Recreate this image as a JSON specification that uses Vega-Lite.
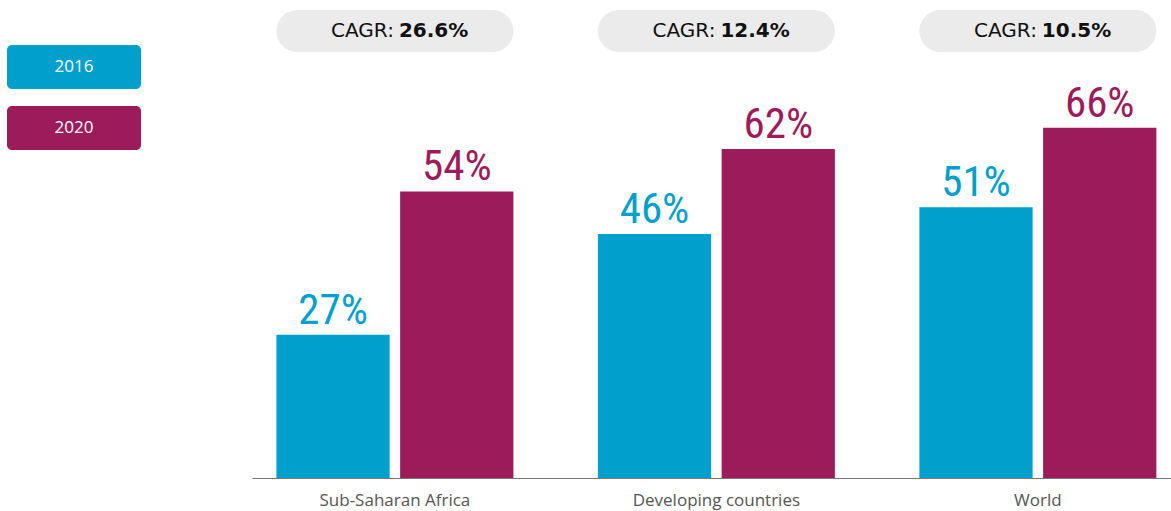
{
  "$schema": "https://vega.github.io/schema/vega-lite/v6.json",
  "padding": {"left": 7, "top": 10, "right": 0, "bottom": 2},
  "background": "white",
  "config": {"view": {"stroke": null}, "font": "Open Sans"},
  "datasets": {
    "bars": [
      {"region": "Sub-Saharan Africa", "year": "2016", "value": 0.27},
      {"region": "Sub-Saharan Africa", "year": "2020", "value": 0.54},
      {"region": "Developing countries", "year": "2016", "value": 0.46},
      {"region": "Developing countries", "year": "2020", "value": 0.62},
      {"region": "World", "year": "2016", "value": 0.51},
      {"region": "World", "year": "2020", "value": 0.66}
    ],
    "cagr": [
      {"region": "Sub-Saharan Africa", "cagr": "26.6%"},
      {"region": "Developing countries", "cagr": "12.4%"},
      {"region": "World", "cagr": "10.5%"}
    ],
    "legend": [{"year": "2016"}, {"year": "2020"}]
  },
  "spacing": 111,
  "hconcat": [
    {
      "width": 134,
      "height": 175,
      "data": {"name": "legend"},
      "encoding": {
        "y": {"field": "year", "type": "nominal", "scale": {"paddingInner": 0.279, "paddingOuter": 0.574}, "axis": null}
      },
      "layer": [
        {
          "mark": {"type": "rect", "cornerRadius": 5},
          "encoding": {
            "color": {"field": "year", "type": "nominal", "scale": {"domain": ["2016", "2020"], "range": ["#009FCC", "#9C1B5A"]}, "legend": null}
          }
        },
        {
          "mark": {"type": "text", "color": "white", "fontSize": 17, "font": "Open Sans"},
          "encoding": {"text": {"field": "year"}}
        }
      ]
    },
    {
      "spacing": 28,
      "vconcat": [
        {
          "width": 919,
          "height": 42,
          "data": {"name": "cagr"},
          "encoding": {
            "x": {"field": "region", "type": "nominal", "sort": ["Sub-Saharan Africa", "Developing countries", "World"], "scale": {"paddingInner": 0.2628, "paddingOuter": 0.0607, "align": 0.625}, "axis": null}
          },
          "layer": [
            {"mark": {"type": "rect", "color": "#EBEBEB", "cornerRadius": 21}},
            {"mark": {"type": "text", "align": "right", "dx": -1, "text": "CAGR:", "fontSize": 20, "font": "DejaVu Sans", "color": "#111"}},
            {"mark": {"type": "text", "align": "left", "dx": 4, "fontSize": 20, "font": "DejaVu Sans", "fontWeight": "bold", "color": "#111"}, "encoding": {"text": {"field": "cagr"}}}
          ]
        },
        {
          "width": 919,
          "height": 398,
          "data": {"name": "bars"},
          "encoding": {
            "x": {"field": "region", "type": "nominal", "sort": ["Sub-Saharan Africa", "Developing countries", "World"], "scale": {"paddingInner": 0.2628, "paddingOuter": 0.0607, "align": 0.625},
              "axis": {"title": null, "labelAngle": 0, "labelFontSize": 17, "labelColor": "#555", "labelPadding": 14, "ticks": false, "domainColor": "#777", "domainWidth": 1.2, "labelFont": "Open Sans"}},
            "xOffset": {"field": "year", "type": "nominal", "scale": {"paddingInner": 0.085, "paddingOuter": 0}},
            "y": {"field": "value", "type": "quantitative", "scale": {"domain": [0, 0.75]}, "axis": null},
            "color": {"field": "year", "type": "nominal", "scale": {"domain": ["2016", "2020"], "range": ["#009FCC", "#9C1B5A"]}, "legend": null}
          },
          "layer": [
            {"mark": {"type": "bar"}},
            {"mark": {"type": "text", "baseline": "bottom", "dy": -2, "fontSize": 43, "font": "Liberation Sans Narrow, Roboto Condensed, DejaVu Sans Condensed, sans-serif"},
             "encoding": {"text": {"field": "value", "type": "quantitative", "format": ".0%"}}}
          ]
        }
      ]
    }
  ]
}
